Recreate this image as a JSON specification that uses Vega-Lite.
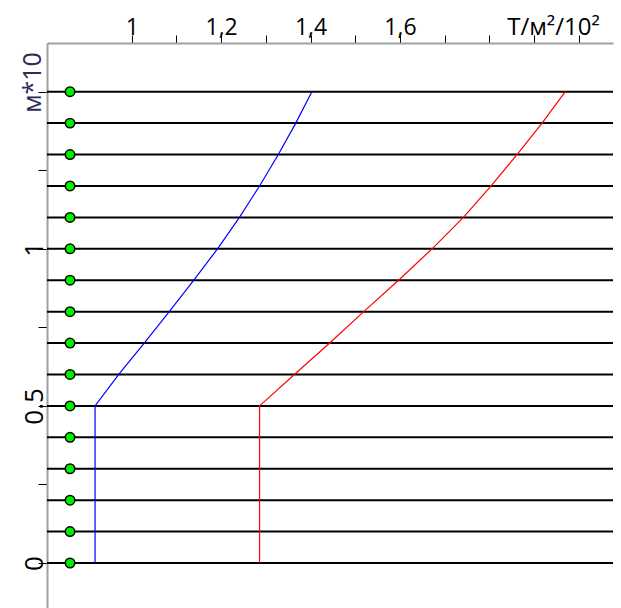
{
  "$schema": "https://vega.github.io/schema/vega-lite/v6.json",
  "autosize": {"type": "none"},
  "width": 566,
  "height": 565,
  "padding": {"left": 47, "top": 43, "right": 8, "bottom": 0},
  "background": "white",
  "config": {
    "view": {"stroke": null},
    "font": "Open Sans"
  },
  "datasets": {
    "levels": [
      {"h": 0.0}, {"h": 0.1}, {"h": 0.2}, {"h": 0.3}, {"h": 0.4}, {"h": 0.5},
      {"h": 0.6}, {"h": 0.7}, {"h": 0.8}, {"h": 0.9}, {"h": 1.0}, {"h": 1.1},
      {"h": 1.2}, {"h": 1.3}, {"h": 1.4}, {"h": 1.5}
    ],
    "curves": [
      {"series": "A", "i": 0, "h": 0.0, "T": 0.918},
      {"series": "A", "i": 1, "h": 0.5, "T": 0.918},
      {"series": "A", "i": 2, "h": 0.6, "T": 0.971},
      {"series": "A", "i": 3, "h": 0.7, "T": 1.028},
      {"series": "A", "i": 4, "h": 0.8, "T": 1.084},
      {"series": "A", "i": 5, "h": 0.9, "T": 1.139},
      {"series": "A", "i": 6, "h": 1.0, "T": 1.192},
      {"series": "A", "i": 7, "h": 1.1, "T": 1.241},
      {"series": "A", "i": 8, "h": 1.2, "T": 1.286},
      {"series": "A", "i": 9, "h": 1.3, "T": 1.328},
      {"series": "A", "i": 10, "h": 1.4, "T": 1.367},
      {"series": "A", "i": 11, "h": 1.5, "T": 1.403},
      {"series": "B", "i": 0, "h": 0.0, "T": 1.286},
      {"series": "B", "i": 1, "h": 0.5, "T": 1.286},
      {"series": "B", "i": 2, "h": 0.6, "T": 1.364},
      {"series": "B", "i": 3, "h": 0.7, "T": 1.443},
      {"series": "B", "i": 4, "h": 0.8, "T": 1.519},
      {"series": "B", "i": 5, "h": 0.9, "T": 1.597},
      {"series": "B", "i": 6, "h": 1.0, "T": 1.672},
      {"series": "B", "i": 7, "h": 1.1, "T": 1.742},
      {"series": "B", "i": 8, "h": 1.2, "T": 1.804},
      {"series": "B", "i": 9, "h": 1.3, "T": 1.862},
      {"series": "B", "i": 10, "h": 1.4, "T": 1.918},
      {"series": "B", "i": 11, "h": 1.5, "T": 1.970}
    ]
  },
  "layer": [
    {
      "data": {"name": "levels"},
      "mark": {"type": "rule", "color": "black", "strokeWidth": 2},
      "encoding": {
        "y": {
          "field": "h",
          "type": "quantitative",
          "scale": {"domain": [-0.1432, 1.655], "nice": false, "zero": false},
          "axis": {
            "orient": "left",
            "title": "м*10",
            "titleFont": "Open Sans",
            "titleFontSize": 25,
            "titleFontWeight": "normal",
            "titleColor": "#2e2a5a",
            "titleAngle": -90,
            "titleAlign": "center",
            "titleBaseline": "alphabetic",
            "titleX": -7,
            "titleY": 39,
            "values": [0, 0.25, 0.5, 0.75, 1, 1.25, 1.5],
            "labelExpr": "datum.value == 0 ? '0' : datum.value == 0.5 ? '0.5' : datum.value == 1 ? '1' : ''",
            "labelAngle": -90,
            "labelAlign": "center",
            "labelBaseline": "alphabetic",
            "labelPadding": -4,
            "labelFontSize": 26,
            "labelColor": "black",
            "labelFont": "Open Sans",
            "tickColor": "black",
            "tickSize": 9,
            "tickWidth": 1,
            "domainColor": "#a0a0a0",
            "domainWidth": 2,
            "grid": false
          }
        }
      }
    },
    {
      "data": {"name": "curves"},
      "mark": {"type": "line", "strokeWidth": 1.2},
      "encoding": {
        "x": {
          "field": "T",
          "type": "quantitative",
          "scale": {"domain": [0.8105, 2.0767], "nice": false, "zero": false},
          "axis": {
            "orient": "top",
            "title": "T/м²/10²",
            "titleFont": "Open Sans",
            "titleFontSize": 24,
            "titleFontWeight": "normal",
            "titleColor": "black",
            "titleAlign": "center",
            "titleBaseline": "alphabetic",
            "titleX": 506,
            "titleY": -9,
            "values": [1, 1.1, 1.2, 1.3, 1.4, 1.5, 1.6, 1.7, 1.8, 1.9, 2.0],
            "format": ".2~f",
            "labelExpr": "indexof([1, 1.2, 1.4, 1.6], datum.value) >= 0 ? replace(datum.label, '.', ',') : ''",
            "labelFontSize": 23,
            "labelFont": "Open Sans",
            "labelColor": "black",
            "labelBaseline": "alphabetic",
            "labelPadding": 1,
            "labelDx": 3,
            "tickColor": "black",
            "tickSize": 8,
            "tickWidth": 1,
            "domainColor": "#a0a0a0",
            "domainWidth": 2,
            "grid": false
          }
        },
        "y": {"field": "h", "type": "quantitative"},
        "order": {"field": "i", "type": "quantitative"},
        "color": {
          "field": "series",
          "type": "nominal",
          "scale": {"domain": ["A", "B"], "range": ["#0000ff", "#ff0000"]},
          "legend": null
        }
      }
    },
    {
      "data": {"name": "levels"},
      "mark": {"type": "point", "shape": "circle", "filled": true, "fill": "#00ee00", "stroke": "black", "strokeWidth": 1.5, "size": 90, "opacity": 1},
      "encoding": {
        "x": {"datum": 0.862, "type": "quantitative"},
        "y": {"field": "h", "type": "quantitative"}
      }
    }
  ]
}
